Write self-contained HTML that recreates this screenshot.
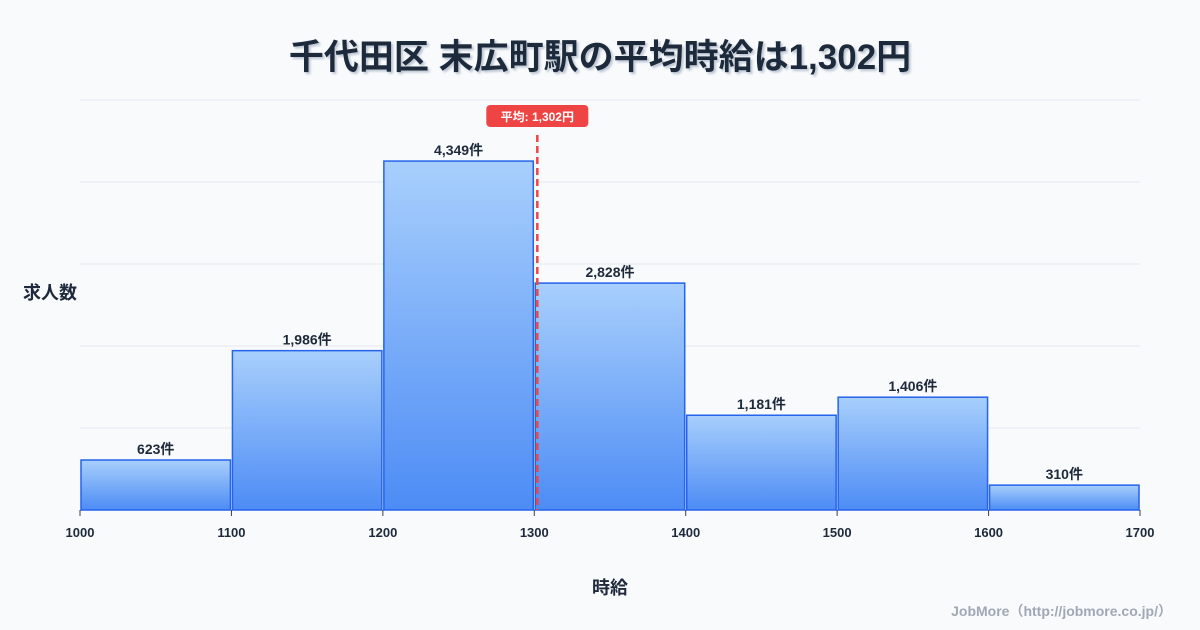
<!DOCTYPE html>
<html><head><meta charset="utf-8"><style>
body{margin:0;background:#f8fafc;}
svg{display:block;font-family:"Liberation Sans","Noto Sans CJK JP",sans-serif;}
</style></head><body>
<svg width="1200" height="630" viewBox="0 0 1200 630">
<defs>
<linearGradient id="g" x1="0" y1="0" x2="0" y2="1"><stop offset="0" stop-color="#a8cffc"/><stop offset="1" stop-color="#4d8cf5"/></linearGradient>
<filter id="sh"><feDropShadow dx="2" dy="2" stdDeviation="1" flood-color="#94a3b8" flood-opacity="0.6"/></filter>
</defs>
<rect width="1200" height="630" fill="#f8fafc"/>
<text x="600" y="69" text-anchor="middle" font-size="35" font-weight="bold" fill="#1e293b" filter="url(#sh)">千代田区 末広町駅の平均時給は1,302円</text>
<g id="grid"></g>
<g id="bars"></g>
<g id="xt"></g>
<g id="mean"></g>
<text x="50" y="299" text-anchor="middle" font-size="18" font-weight="bold" fill="#1e293b">求人数</text>
<text x="610" y="594" text-anchor="middle" font-size="18" font-weight="bold" fill="#1e293b">時給</text>
<text x="1172" y="616" text-anchor="end" font-size="14" font-weight="bold" fill="#a0a8b4">JobMore（http://jobmore.co.jp/）</text>
</svg>
<script>
const binStarts=[1000,1100,1200,1300,1400,1500,1600];
const counts=[623,1986,4349,2828,1181,1406,310];
const xTicks=[1000,1100,1200,1300,1400,1500,1600,1700];
const meanValue=1302;
const meanLabel="平均: 1,302円";
const NS="http://www.w3.org/2000/svg";
const x0=80,x1=1140,xmin=1000,xmax=1700,yb=510,yt=100,ymax=5110;
const X=v=>x0+(v-xmin)/(xmax-xmin)*(x1-x0);
const Y=v=>yb-v/ymax*(yb-yt);
function mk(t,a,p){const e=document.createElementNS(NS,t);for(const k in a)e.setAttribute(k,a[k]);p.appendChild(e);return e;}
const grid=document.getElementById('grid');
for(let i=0;i<=5;i++){const y=yt+i*(yb-yt)/5;const l=mk('line',{x1:x0,x2:x1,y1:y,y2:y,stroke:i==5?'#cbd5e1':'#e5e9ef','stroke-width':1},grid);

}
const bars=document.getElementById('bars');
binStarts.forEach((s,i)=>{const xa=X(s)+1,xb=X(s+100)-1,y=Y(counts[i]);
const r=mk('rect',{x:xa,y:y,width:xb-xa,height:yb-y,fill:'url(#g)',stroke:'#2563eb','stroke-width':1.5},bars);


const t=mk('text',{x:(xa+xb)/2,y:y-6,'text-anchor':'middle','font-size':14,'font-weight':'bold',fill:'#1e293b'},bars);
t.textContent=counts[i].toLocaleString('en-US')+'件';

});
const xt=document.getElementById('xt');
xTicks.forEach(v=>{const l=mk('line',{x1:X(v),x2:X(v),y1:yb,y2:yb+6,stroke:'#334155'},xt);


const t=mk('text',{x:X(v),y:537,'text-anchor':'middle','font-size':13,'font-weight':'bold',fill:'#1e293b'},xt);
t.textContent=v;

});
const mg=document.getElementById('mean');const mx=X(meanValue);
const ml=mk('line',{x1:mx,x2:mx,y1:135,y2:yb,stroke:'#ef4444','stroke-width':2.5,'stroke-dasharray':'7,4'},mg);


const mr=mk('rect',{x:mx-51,y:105,width:102,height:22,rx:4,fill:'#ef4444'},mg);


const mt=mk('text',{x:mx,y:121,'text-anchor':'middle','font-size':12,'font-weight':'bold',fill:'#fff'},mg);
mt.textContent=meanLabel;


</script>
</body></html>
